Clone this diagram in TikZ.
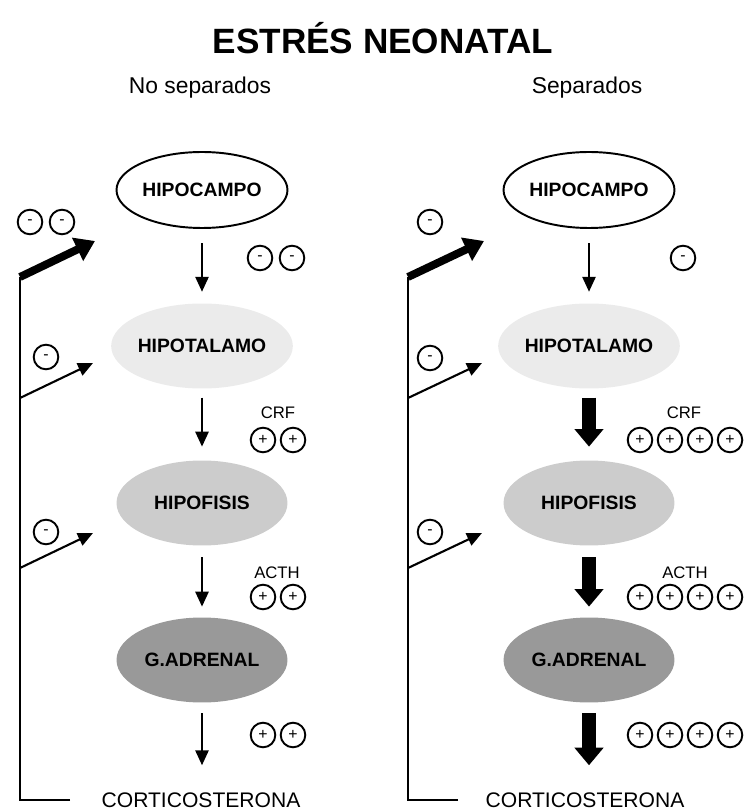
\documentclass[tikz,border=0pt]{standalone}
\usepackage{fontspec}
\setmainfont{Liberation Sans}
\usetikzlibrary{arrows.meta, positioning, shapes.geometric}
\tikzset{
  organ/.style={ellipse, minimum width=3.42cm, minimum height=1.7cm, inner sep=0pt,
    font=\bfseries\fontsize{11}{13}\selectfont},
  sgn/.style={circle, draw, line width=1.1pt, minimum size=14pt, inner sep=0pt,
    font=\fontsize{9}{9}\selectfont},
  arr/.style={-{Triangle[width=7.5pt,length=8.5pt]}, line width=1.2pt},
  bigarr/.style={-{Triangle[width=16pt,length=10pt]}, line width=8.5pt},
  fbarr/.style={-{Triangle[width=14pt,length=11pt]}, line width=4.5pt},
  fbline/.style={line width=1.3pt},
  hormone/.style={font=\fontsize{9.5}{10}\selectfont},
  final/.style={font=\fontsize{12}{14}\selectfont},
}
\begin{document}
\begin{tikzpicture}[x=0.02cm, y=-0.02cm]
  \useasboundingbox (0,0) rectangle (745,810);
  \node[font=\bfseries\fontsize{20}{24}\selectfont] (title) at (383,38) {ESTRÉS NEONATAL};
  \node[font=\fontsize{13}{15}\selectfont] (noSep) at (200,88) {No separados};
  \node[font=\fontsize{13}{15}\selectfont] (sep) at (587,88) {Separados};

  % no separados
  \node[organ, draw, line width=1.1pt, fill=white, minimum height=1.52cm] (hcL) at (202,190) {HIPOCAMPO};
  \node[organ, fill=gray!16] (htL) at (202,346) {HIPOTALAMO};
  \node[organ, fill=gray!40] (hfL) at (202,503) {HIPOFISIS};
  \node[organ, fill=gray!80] (gaL) at (202,660) {G.ADRENAL};
  \node[final] (coL) at (201,800) {CORTICOSTERONA};
  \draw[arr, shorten <=8pt, shorten >=6.5pt] (hcL) -- (htL);
  \draw[arr, shorten <=5pt, shorten >=7.7pt] (htL) -- (hfL);
  \draw[arr, shorten <=6.5pt, shorten >=6pt] (hfL) -- (gaL);
  \draw[arr, shorten <=6pt, shorten >=12pt] (gaL) -- (gaL |- coL.north);

  % separados
  \node[organ, draw, line width=1.1pt, fill=white, minimum height=1.52cm] (hcR) at (589,190) {HIPOCAMPO};
  \node[organ, fill=gray!16] (htR) at (589,346) {HIPOTALAMO};
  \node[organ, fill=gray!40] (hfR) at (589,503) {HIPOFISIS};
  \node[organ, fill=gray!80] (gaR) at (589,660) {G.ADRENAL};
  \node[final] (coR) at (585,800) {CORTICOSTERONA};
  \draw[arr, shorten <=8pt, shorten >=6.5pt] (hcR) -- (htR);
  \draw[bigarr, shorten <=5pt, shorten >=7.7pt] (htR) -- (hfR);
  \draw[bigarr, shorten <=6.5pt, shorten >=6pt] (hfR) -- (gaR);
  \draw[bigarr, shorten <=6pt, shorten >=12pt] (gaR) -- (gaR |- coR.north);

  % retroalimentacion
  \coordinate (fbTopL) at (20,277);
  \coordinate (fbMidL) at (20,398);
  \coordinate (fbLowL) at (20,568);
  \coordinate (fbEndL) at (70,800);
  \coordinate (tipTopL) at (95,241);
  \coordinate (tipMidL) at (93,363);
  \coordinate (tipLowL) at (93,533);
  \draw[fbline] (fbEndL) -| (fbTopL);
  \draw[fbarr] (fbTopL) -- (tipTopL);
  \draw[arr] (fbMidL) -- (tipMidL);
  \draw[arr] (fbLowL) -- (tipLowL);

  \coordinate (fbTopR) at (408,277);
  \coordinate (fbMidR) at (408,398);
  \coordinate (fbLowR) at (408,568);
  \coordinate (fbEndR) at (458,800);
  \coordinate (tipTopR) at (484,241);
  \coordinate (tipMidR) at (482,363);
  \coordinate (tipLowR) at (482,533);
  \draw[fbline] (fbEndR) -| (fbTopR);
  \draw[fbarr] (fbTopR) -- (tipTopR);
  \draw[arr] (fbMidR) -- (tipMidR);
  \draw[arr] (fbLowR) -- (tipLowR);

  % signos
  \node[sgn] (mTopL1) at (30,222) {-};
  \node[sgn] (mTopL2) at (62,222) {-};
  \node[sgn] (mHcL1) at (260,258) {-};
  \node[sgn] (mHcL2) at (292,258) {-};
  \node[sgn] (mMidL) at (46,357) {-};
  \node[sgn] (mLowL) at (46,532) {-};
  \node[hormone] (crfL) at (278,413) {CRF};
  \node[hormone] (acthL) at (277,573) {ACTH};
  \foreach \x [count=\i] in {263,293} {
    \node[sgn] (pCrfL\i) at (\x,440) {+};
    \node[sgn] (pActhL\i) at (\x,597) {+};
    \node[sgn] (pCoL\i) at (\x,735) {+};
  }

  \node[sgn] (mTopR) at (430,222) {-};
  \node[sgn] (mHcR) at (683,258) {-};
  \node[sgn] (mMidR) at (430,358) {-};
  \node[sgn] (mLowR) at (430,532) {-};
  \node[hormone] (crfR) at (684,413) {CRF};
  \node[hormone] (acthR) at (685,573) {ACTH};
  \foreach \x [count=\i] in {640,670,700,730} {
    \node[sgn] (pCrfR\i) at (\x,440) {+};
    \node[sgn] (pActhR\i) at (\x,597) {+};
    \node[sgn] (pCoR\i) at (\x,735) {+};
  }
\end{tikzpicture}
\end{document}
